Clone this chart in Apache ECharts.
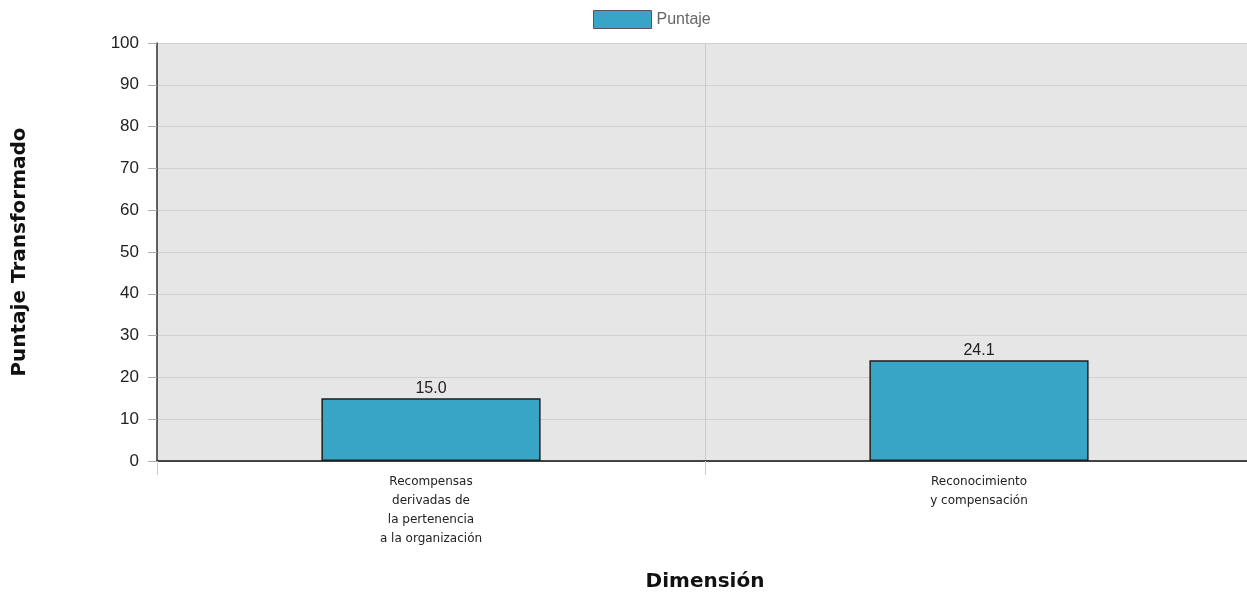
<!DOCTYPE html>
<html>
<head>
<meta charset="utf-8">
<script src="https://cdn.jsdelivr.net/npm/echarts@6/dist/echarts.min.js"></script>
<style>html,body{margin:0;padding:0;background:#fff}#c{width:1247px;height:593px}</style>
</head>
<body>
<div id="c"></div>
<script>
const categories = ["Recompensas\nderivadas de\nla pertenencia\na la organización", "Reconocimiento\ny compensación"];
const seriesName = "Puntaje";
const values = [15.0, 24.1];
const yMin = 0, yMax = 100, yInterval = 10;
const xTitle = "Dimensión";
const yTitle = "Puntaje Transformado";

const chart = echarts.init(document.getElementById('c'));
chart.setOption({
  animation: false,
  legend: {
    data: [{ name: seriesName, icon: 'rect' }], left: 588, top: 5, itemWidth: 58, itemHeight: 18, itemGap: 6,
    itemStyle: { borderColor: '#555', borderWidth: 1 },
    textStyle: { color: '#666', fontFamily: 'Liberation Sans, Arial', fontSize: 16 }
  },
  grid: { left: 157, top: 43, width: 1096, height: 418, outerBoundsMode: 'none', containLabel: false,
    show: true, backgroundColor: '#e6e6e6', borderWidth: 0 },
  xAxis: {
    type: 'category', data: categories,
    name: xTitle, nameLocation: 'middle', nameGap: 111,
    nameTextStyle: { fontFamily: 'DejaVu Sans', fontWeight: 'bold', fontSize: 20, color: '#111' },
    axisLine: { lineStyle: { color: '#111', width: 1.5 } },
    axisTick: { show: true, alignWithLabel: false, interval: 0, length: 14, lineStyle: { color: '#ccc' } },
    splitLine: { show: true, interval: 0, lineStyle: { color: '#ccc', width: 1 } },
    axisLabel: { interval: 0, margin: 11, lineHeight: 19, fontFamily: 'DejaVu Sans', fontSize: 12, color: '#222' }
  },
  yAxis: {
    type: 'value', min: yMin, max: yMax, interval: yInterval,
    name: yTitle, nameLocation: 'middle', nameGap: 127, nameRotate: 90,
    nameTextStyle: { fontFamily: 'DejaVu Sans', fontWeight: 'bold', fontSize: 20, color: '#111' },
    axisLine: { show: true, lineStyle: { color: '#333', width: 1.5 } },
    axisTick: { show: true, length: 9, lineStyle: { color: '#aaa' } },
    splitLine: { lineStyle: { color: '#d0d0d0', width: 1 } },
    axisLabel: { margin: 18, fontFamily: 'Liberation Sans, Arial', fontSize: 17, color: '#222' }
  },
  series: [{
    name: seriesName, type: 'bar', data: values, barWidth: '40%',
    itemStyle: { color: '#38a5c6', borderColor: '#1e1e1e', borderWidth: 1.5 },
    label: { show: true, position: 'top', distance: 2, formatter: p => p.value.toFixed(1),
      fontFamily: 'Liberation Sans, Arial', fontSize: 16, color: '#222' }
  }]
});
</script>
</body>
</html>
